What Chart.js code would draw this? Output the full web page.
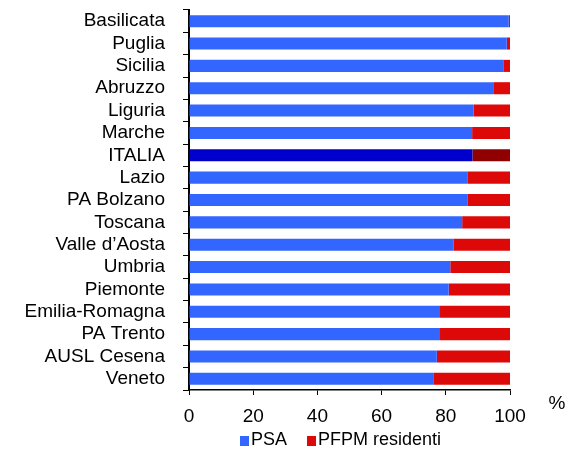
<!DOCTYPE html>
<html>
<head>
<meta charset="utf-8">
<script src="https://cdn.jsdelivr.net/npm/chart.js@4/dist/chart.umd.min.js"></script>
<style>
  html, body { margin: 0; padding: 0; background: #fff; }
  #wrap { width: 570px; height: 450px; }
</style>
</head>
<body>
<div id="wrap"><canvas id="myChart"></canvas></div>
<script>
// regions, top to bottom
const regions = ["Basilicata", "Puglia", "Sicilia", "Abruzzo", "Liguria", "Marche", "ITALIA", "Lazio",
    "PA Bolzano", "Toscana", "Valle d\u2019Aosta", "Umbria", "Piemonte", "Emilia-Romagna", "PA Trento",
    "AUSL Cesena", "Veneto"];
// % PSA
const psa = [99.6, 99.0, 98.1, 95.0, 88.7, 88.2, 88.3, 86.7, 86.7, 85.1, 82.5, 81.4, 80.9, 78.2, 78.2, 77.2, 76.3];
// % PFPM residenti
const pfpm = [0.4, 1.0, 1.9, 5.0, 11.3, 11.8, 11.7, 13.3, 13.3, 14.9, 17.5, 18.6, 19.1, 21.8, 21.8, 22.8, 23.7];
const xTicks = [0, 20, 40, 60, 80, 100];

const FONT = "'Liberation Sans', Arial, sans-serif";
const blue = regions.map(r => r === "ITALIA" ? "#0000cc" : "#3366ff");
const red = regions.map(r => r === "ITALIA" ? "#900000" : "#dd0808");

// "%" unit at the right of the x axis, plus the legend under it
const extras = {
    id: "extras",
    afterDraw(chart) {
        const ctx = chart.ctx;
        ctx.save();
        ctx.font = "19px " + FONT;
        ctx.fillStyle = "#000";
        ctx.textAlign = "center";
        ctx.textBaseline = "middle";
        ctx.fillText("%", 557, 404);

        ctx.font = "18px " + FONT;
        ctx.textAlign = "left";
        let x = 240;
        const y = 440;
        chart.data.datasets.forEach(d => {
            ctx.fillStyle = d.backgroundColor[0];
            ctx.fillRect(x, 436, 9, 10);
            ctx.fillStyle = "#000";
            ctx.fillText(d.label, x + 11, y);
            x += 11 + ctx.measureText(d.label).width + 20;
        });
        ctx.restore();
    }
};

new Chart(document.getElementById("myChart"), {
    type: "bar",
    data: {
        labels: regions,
        datasets: [
            { label: "PSA", data: psa, backgroundColor: blue, barPercentage: 0.54, categoryPercentage: 1 },
            { label: "PFPM residenti", data: pfpm, backgroundColor: red, barPercentage: 0.54, categoryPercentage: 1 }
        ]
    },
    options: {
        indexAxis: "y",
        responsive: true,
        maintainAspectRatio: false,
        animation: false,
        layout: { padding: { top: 10, right: 60, left: 0, bottom: 0 } },
        scales: {
            x: {
                stacked: true,
                min: 0,
                max: 100,
                afterBuildTicks: s => { s.ticks = xTicks.map(v => ({ value: v })); },
                afterFit: s => { s.height = 60; },
                grid: { drawOnChartArea: false, tickLength: 5, color: "#000", tickWidth: 1 },
                border: { color: "#000", width: 1.5 },
                ticks: { color: "#000", font: { family: FONT, size: 19 }, padding: 10, maxRotation: 0 }
            },
            y: {
                stacked: true,
                afterFit: s => { s.width = 189; s.paddingTop = 0; s.paddingBottom = 0; },
                grid: { drawOnChartArea: false, tickLength: 6, color: "#000", offset: true },
                border: { color: "#000", width: 2 },
                ticks: { color: "#000", font: { family: FONT, size: 19 }, padding: 18, autoSkip: false }
            }
        },
        plugins: {
            legend: { display: false },
            tooltip: { enabled: false }
        }
    },
    plugins: [extras]
});
</script>
</body>
</html>
